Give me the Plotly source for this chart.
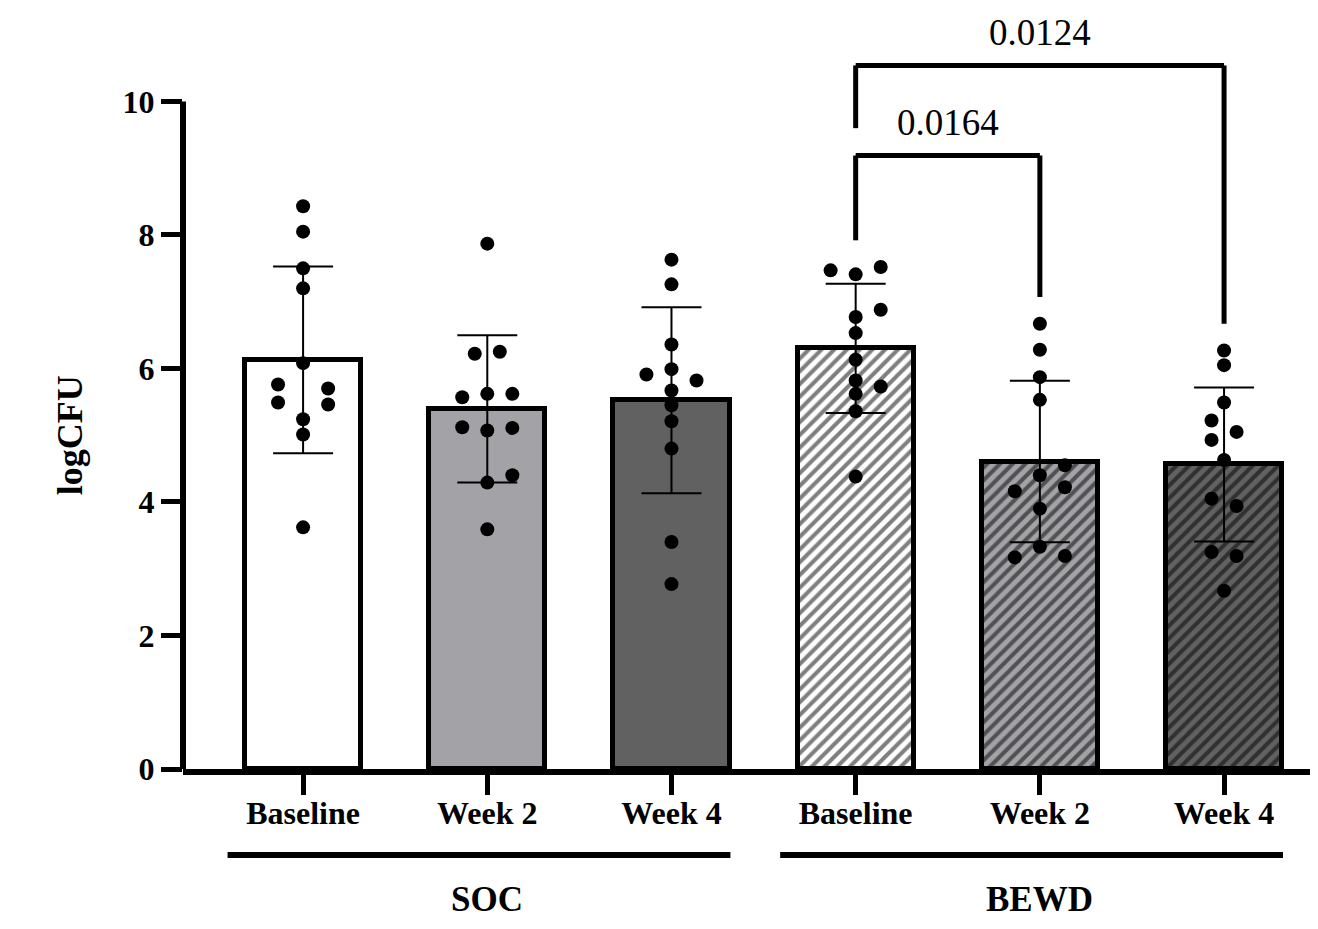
import numpy as np
import plotly.graph_objects as go

# ---------------- data ----------------
groups = ["SOC", "BEWD"]
timepoints = ["Baseline", "Week 2", "Week 4", "Baseline", "Week 2", "Week 4"]
y_tick_vals = [0, 2, 4, 6, 8, 10]

soc_baseline = [8.43, 8.05, 7.50, 7.20, 6.08, 5.76, 5.70, 5.49, 5.46, 5.24, 5.01, 3.62]
soc_week2 = [7.87, 6.22, 6.25, 5.57, 5.62, 5.62, 5.12, 5.07, 5.11, 4.40, 4.29, 3.59]
soc_week4 = [7.63, 7.26, 6.36, 5.91, 5.99, 5.82, 5.67, 5.45, 5.21, 4.80, 3.40, 2.77]
bewd_baseline = [7.47, 7.41, 7.52, 6.88, 6.77, 6.53, 6.13, 5.82, 5.73, 5.62, 5.36, 4.38]
bewd_week2 = [6.67, 6.28, 5.87, 5.53, 4.55, 4.40, 4.16, 4.22, 3.90, 3.33, 3.17, 3.19]
bewd_week4 = [6.27, 6.05, 5.49, 5.22, 5.05, 4.93, 4.63, 4.05, 3.94, 3.25, 3.19, 2.67]

p_values = ["0.0164", "0.0124"]
comparisons = [(3, 4), (3, 5)]

# ---------------- layout helpers (positions / styles) ----------------
series = [soc_baseline, soc_week2, soc_week4, bewd_baseline, bewd_week2, bewd_week4]
jitter = [
    [0, 0, 0, 0, 0, -1, 1, -1, 1, 0, 0, 0],
    [0, -0.5, 0.5, -1, 0, 1, -1, 0, 1, 1, 0, 0],
    [0, 0, 0, -1, 0, 1, 0, 0, 0, 0, 0, 0],
    [-1, 0, 1, 1, 0, 0, 0, 0, 1, 0, 0, 0],
    [0, 0, 0, 0, 1, 0, -1, 1, 0, 0, -1, 1],
    [0, 0, 0, -0.5, 0.5, -0.5, 0, -0.5, 0.5, -0.5, 0.5, 0],
]
jitter_step = 0.136
fill_colors = ["#ffffff", "#a3a2a7", "#616161", "#ffffff", "#a3a2a7", "#616161"]
hatch = ["", "", "", "/", "/", "/"]
bracket_tops = [9.19, 10.54]
bracket_left_bottoms = [None, 9.60]
leg_gap = 0.40
label_gap = 0.50

FONT = "Liberation Serif, Times New Roman, serif"
x_idx = np.arange(len(series))
means = [float(np.mean(s)) for s in series]
sds = [float(np.std(s, ddof=1)) for s in series]

fig = go.Figure()

for i in range(len(series)):
    fig.add_trace(go.Bar(
        x=[x_idx[i]], y=[means[i]], width=0.63,
        marker=dict(
            color=fill_colors[i],
            line=dict(color="black", width=5),
            pattern=dict(shape=hatch[i], fgcolor="black", bgcolor=fill_colors[i],
                         size=9, solidity=0.45, fillmode="overlay"),
        ),
        error_y=dict(type="data", array=[sds[i]], visible=True,
                     color="black", thickness=2, width=30),
        showlegend=False, hoverinfo="skip",
    ))

for i, s in enumerate(series):
    xs = [x_idx[i] + j * jitter_step for j in jitter[i]]
    fig.add_trace(go.Scatter(
        x=xs, y=s, mode="markers",
        marker=dict(color="black", size=14),
        showlegend=False, hoverinfo="skip",
    ))

# significance brackets
for k, ((a, b), p) in enumerate(zip(comparisons, p_values)):
    top = bracket_tops[k]
    lb = bracket_left_bottoms[k] if bracket_left_bottoms[k] is not None else max(series[a]) + leg_gap
    rb = max(series[b]) + leg_gap
    for (x0, y0, x1, y1) in [(a, lb, a, top), (a, top, b, top), (b, top, b, rb)]:
        fig.add_shape(type="line", xref="x", yref="y", x0=x0, y0=y0, x1=x1, y1=y1,
                      line=dict(color="black", width=5))
    fig.add_annotation(x=(a + b) / 2, y=top + label_gap, xref="x", yref="y",
                       text=p, showarrow=False,
                       font=dict(family=FONT, size=37, color="black"))

# y axis line (0..10 only)
fig.add_shape(type="line", xref="paper", yref="y", x0=0, x1=0, y0=0, y1=10,
              line=dict(color="black", width=6))

# group lines and labels
group_members = [[0, 1, 2], [3, 4, 5]]
for g, members in zip(groups, group_members):
    fig.add_shape(type="line", xref="x", yref="paper",
                  x0=min(members) - 0.41, x1=max(members) + 0.32,
                  y0=-0.113, y1=-0.113, line=dict(color="black", width=6))
    fig.add_annotation(x=float(np.mean(members)), y=-0.172, xref="x", yref="paper",
                       text=f"<b>{g}</b>", showarrow=False, yanchor="middle",
                       font=dict(family=FONT, size=35, color="black"))

# y axis title
fig.add_annotation(x=0, y=5, xref="paper", yref="y", xshift=-113,
                   xanchor="center", yanchor="middle",
                   text="<b>logCFU</b>", textangle=-90, showarrow=False,
                   font=dict(family=FONT, size=36, color="black"))

fig.update_layout(
    width=1310, height=921,
    margin=dict(l=175, r=0, t=0, b=160),
    plot_bgcolor="white", paper_bgcolor="white",
    bargap=0,
    xaxis=dict(
        range=[-0.652, 5.51], tickvals=list(x_idx), ticktext=timepoints,
        showline=True, linecolor="black", linewidth=6,
        ticks="outside", ticklen=20, tickwidth=5, tickcolor="black",
        ticklabelstandoff=-9,
        tickfont=dict(family=FONT, size=32, color="black", weight="bold"),
        showgrid=False, zeroline=False,
    ),
    yaxis=dict(
        range=[0, 11.4], tickvals=y_tick_vals,
        showline=False,
        ticks="outside", ticklen=21, tickwidth=5, tickcolor="black",
        tickfont=dict(family=FONT, size=32, color="black", weight="bold"),
        showgrid=False, zeroline=False,
    ),
)

fig.write_html("out.html")
